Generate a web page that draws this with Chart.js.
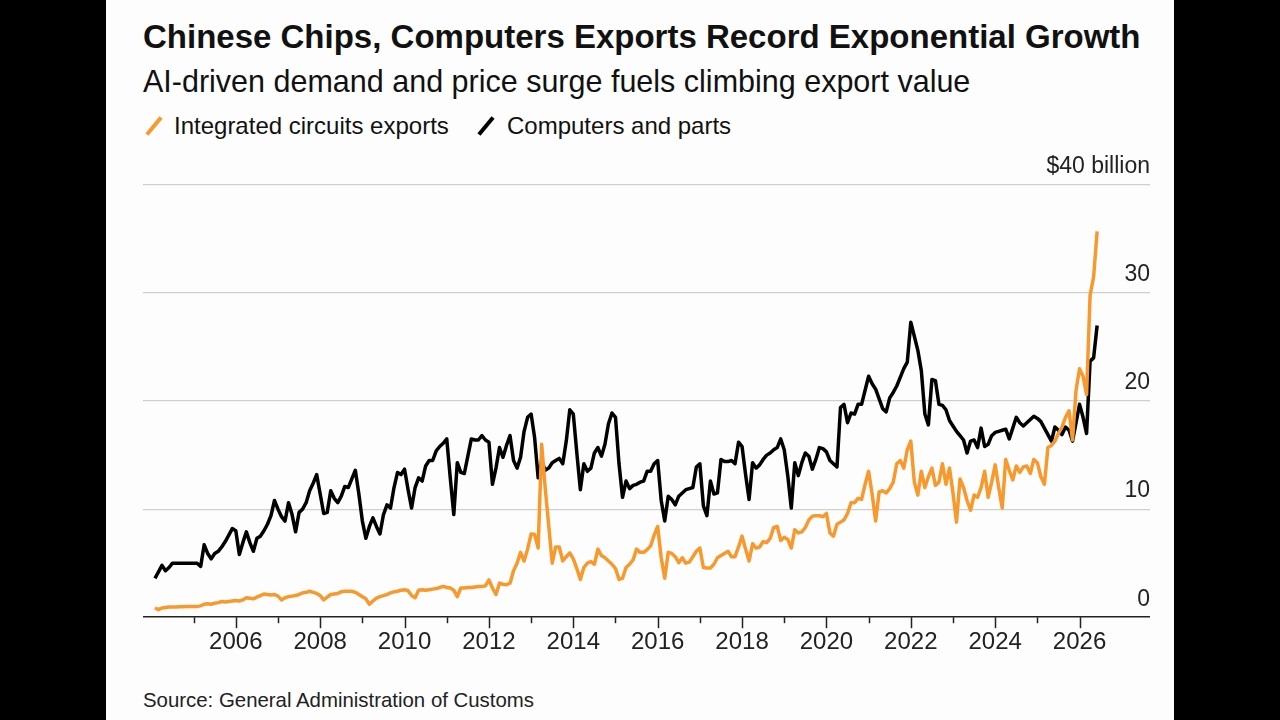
<!DOCTYPE html>
<html>
<head>
<meta charset="utf-8">
<script src="https://cdn.jsdelivr.net/npm/chart.js@4.4.1/dist/chart.umd.min.js"></script>
<style>
  html, body { margin: 0; padding: 0; background: #000; }
  body { width: 1280px; height: 720px; position: relative; overflow: hidden;
         font-family: "Liberation Sans", Arial, Helvetica, sans-serif; }
  #panel { position: absolute; left: 106px; top: 0; width: 1068px; height: 720px; background: #fdfdfd; }
  .txt { position: absolute; white-space: nowrap; color: #111; }
  #title { left: 143px; top: 17px; font-size: 33px; line-height: 40px; font-weight: bold; }
  #subtitle { left: 143px; top: 63px; font-size: 30.5px; line-height: 36px; }
  .leg { top: 111px; font-size: 24px; line-height: 30px; }
  .slash { position: absolute; top: 115px; width: 4px; height: 22px; transform: rotate(40deg); }
  #source { left: 143px; top: 688px; font-size: 20.4px; line-height: 24px; color: #222; }
  #chartBox { position: absolute; left: 143px; top: 140px; width: 1007px; height: 540px; }
</style>
</head>
<body>
<div id="panel"></div>
<div class="txt" id="title">Chinese Chips, Computers Exports Record Exponential Growth</div>
<div class="txt" id="subtitle">AI-driven demand and price surge fuels climbing export value</div>
<div class="slash" style="left:152px; background:#f7992d;"></div>
<div class="txt leg" style="left:174px;">Integrated circuits exports</div>
<div class="slash" style="left:484px; background:#000;"></div>
<div class="txt leg" style="left:507px;">Computers and parts</div>
<div id="chartBox"><canvas id="chart"></canvas></div>
<div class="txt" id="source">Source: General Administration of Customs</div>

<script>
// monthly values, $ billion, Jan 2004 .. May 2026
const startYear = 2004;

const chips = [
  0.85, 0.7, 0.85, 0.9, 0.95, 0.95, 0.95, 0.97, 0.97, 1.0, 1.0, 1.0,      // 2004
  1.0, 1.05, 1.2, 1.25, 1.2, 1.3, 1.35, 1.45, 1.4, 1.45, 1.5, 1.55,       // 2005
  1.5, 1.6, 1.8, 1.75, 1.7, 1.85, 2.0, 2.15, 2.1, 2.05, 2.1, 1.95,        // 2006
  1.6, 1.8, 1.9, 1.95, 2.0, 2.1, 2.25, 2.3, 2.4, 2.3, 2.2, 2.0,           // 2007
  1.6, 1.85, 2.1, 2.15, 2.2, 2.35, 2.4, 2.4, 2.4, 2.3, 2.1, 1.9,          // 2008
  1.7, 1.2, 1.5, 1.77, 1.9, 2.0, 2.1, 2.25, 2.35, 2.4, 2.5, 2.55,         // 2009
  2.45, 2.0, 1.8, 2.5, 2.55, 2.5, 2.55, 2.6, 2.65, 2.75, 2.85, 2.75,      // 2010
  2.7, 2.5, 1.9, 2.7, 2.7, 2.75, 2.75, 2.8, 2.85, 2.85, 2.9, 3.45,        // 2011
  2.7, 2.1, 3.15, 3.05, 3.0, 3.15, 4.3, 5.0, 6.0, 5.2, 6.3, 7.7,          // 2012
  7.65, 6.4, 16.0, 12.0, 8.5, 5.0, 6.5, 6.5, 5.2, 5.6, 5.95, 5.4,         // 2013
  4.5, 3.5, 4.6, 5.0, 5.15, 4.9, 6.3, 5.7, 5.5, 5.2, 4.9, 4.5,            // 2014
  3.5, 3.6, 4.6, 4.9, 5.3, 6.3, 6.0, 6.0, 6.25, 6.6, 7.6, 8.4,            // 2015
  5.5, 3.6, 6.0, 5.9, 5.6, 5.05, 5.5, 5.0, 5.1, 5.6, 6.1, 6.4,            // 2016
  4.6, 4.55, 4.55, 4.9, 5.5, 5.7, 5.9, 6.1, 5.6, 5.6, 6.5, 7.5,           // 2017
  6.3, 5.2, 6.8, 6.4, 6.5, 7.0, 6.9, 7.3, 8.3, 8.4, 7.1, 7.4,             // 2018
  7.2, 6.4, 8.1, 7.8, 7.9, 8.3, 9.0, 9.35, 9.4, 9.4, 9.3, 9.6,            // 2019
  7.8, 7.5, 8.6, 8.8, 9.0, 9.6, 10.6, 10.6, 11.0, 10.9, 12.3, 13.5,       // 2020
  11.4, 8.9, 11.6, 11.7, 11.5, 11.9, 12.5, 14.2, 14.5, 13.8, 15.5, 16.3,  // 2021
  12.5, 11.3, 13.5, 12.0, 13.0, 13.8, 12.2, 12.5, 14.2, 12.3, 13.8, 11.5, // 2022
  8.8, 12.8, 12.0, 10.8, 9.9, 11.3, 11.1, 12.0, 13.5, 11.1, 12.5, 14.1,   // 2023
  12.0, 10.1, 14.6, 13.6, 12.7, 14.0, 13.4, 13.9, 14.0, 13.3, 14.6, 14.3, // 2024
  13.0, 12.3, 15.7, 15.9, 16.3, 17.0, 17.6, 18.5, 19.1, 16.4, 21.0, 23.0, // 2025
  22.3, 20.6, 29.8, 31.5, 35.7                                            // 2026
];

const computers = [
  3.6, 4.2, 4.8, 4.3, 4.6, 5.0, 5.0, 5.0, 5.0, 5.0, 5.0, 5.0,             // 2004
  5.0, 4.7, 6.7, 5.9, 5.4, 5.9, 6.1, 6.5, 7.0, 7.6, 8.2, 8.0,             // 2005
  5.8, 6.9, 7.9, 6.9, 6.1, 7.3, 7.5, 8.0, 8.6, 9.4, 10.8, 10.0,           // 2006
  9.3, 8.9, 10.6, 9.5, 7.9, 9.7, 10.0, 10.6, 11.7, 12.4, 13.2, 11.4,      // 2007
  9.6, 9.7, 11.7, 11.0, 10.6, 11.2, 12.1, 12.0, 12.8, 13.6, 11.4, 8.9,    // 2008
  7.3, 8.4, 9.2, 8.4, 7.7, 9.5, 10.4, 10.1, 12.0, 13.4, 13.2, 13.7,       // 2009
  11.8, 10.1, 12.0, 12.9, 12.6, 14.0, 14.5, 14.5, 15.4, 15.8, 16.1, 16.5, // 2010
  12.9, 9.5, 14.3, 13.4, 13.3, 14.9, 16.5, 16.4, 16.4, 16.8, 16.4, 16.2,  // 2011
  12.3, 13.8, 15.7, 14.8, 15.9, 16.8, 14.5, 13.8, 14.8, 17.2, 18.5, 18.8, // 2012
  16.6, 12.9, 14.5, 13.6, 13.8, 14.3, 14.5, 14.7, 14.2, 16.3, 19.2, 18.8, // 2013
  15.2, 11.8, 14.2, 13.5, 13.8, 15.2, 15.7, 14.9, 16.0, 17.9, 18.9, 18.5, // 2014
  14.2, 11.1, 12.6, 11.9, 12.2, 12.3, 12.5, 12.6, 13.5, 13.5, 14.2, 14.5, // 2015
  10.8, 8.9, 11.2, 10.9, 10.4, 11.2, 11.5, 11.8, 11.9, 12.0, 13.9, 14.2,  // 2016
  10.3, 9.4, 12.6, 11.4, 11.5, 14.6, 14.4, 14.4, 14.5, 14.2, 16.2, 15.8,  // 2017
  13.2, 10.9, 14.3, 13.8, 14.1, 14.6, 15.0, 15.2, 15.5, 15.7, 16.5, 15.5, // 2018
  13.1, 10.1, 14.3, 13.1, 14.3, 15.2, 14.9, 13.7, 14.6, 15.7, 15.6, 15.3, // 2019
  14.5, 14.2, 13.9, 19.4, 19.7, 18.0, 18.9, 18.8, 19.7, 19.7, 21.0, 22.3, // 2020
  21.6, 21.1, 20.2, 19.3, 19.0, 20.3, 20.8, 21.4, 22.2, 23.0, 23.6, 27.3, // 2021
  26.0, 24.7, 22.8, 18.8, 17.8, 22.0, 21.9, 19.7, 19.6, 19.2, 18.2, 17.7, // 2022
  17.2, 16.8, 16.4, 15.2, 16.3, 16.4, 15.7, 17.5, 15.8, 16.0, 16.8, 17.1, // 2023
  17.2, 17.3, 17.4, 16.5, 17.5, 18.5, 18.0, 17.7, 18.0, 18.3, 18.6, 18.4, // 2024
  18.1, 17.5, 16.9, 16.3, 17.6, 17.3, 16.9, 17.6, 17.3, 16.3, 18.0, 19.7, // 2025
  18.5, 17.0, 23.7, 24.0, 27.0                                            // 2026
];

const tickYears = [2005, 2006, 2007, 2008, 2009, 2010, 2011, 2012, 2013, 2014, 2015,
                   2016, 2017, 2018, 2019, 2020, 2021, 2022, 2023, 2024, 2025, 2026];
const labelYears = [2006, 2008, 2010, 2012, 2014, 2016, 2018, 2020, 2022, 2024, 2026];
const yTicks = [0, 10, 20, 30, 40];

// month i sits at the end of its month on the year scale
function toPoints(values) {
    return values.map((v, i) => ({ x: startYear + (i + 1) / 12, y: v }));
}

// short ticks for odd years, longer ones under the labels
const yearTicks = {
    id: 'yearTicks',
    afterDraw(chart) {
        const xs = chart.scales.x;
        const ctx = chart.ctx;
        const bottom = chart.chartArea.bottom;
        ctx.save();
        ctx.strokeStyle = '#222';
        ctx.lineWidth = 1.5;
        tickYears.forEach(yr => {
            const px = Math.round(xs.getPixelForValue(yr)) + 0.5;
            const len = labelYears.includes(yr) ? 11 : 6;
            ctx.beginPath();
            ctx.moveTo(px, bottom);
            ctx.lineTo(px, bottom + len);
            ctx.stroke();
        });
        ctx.restore();
    }
};

new Chart(document.getElementById('chart').getContext('2d'), {
    type: 'line',
    data: {
        datasets: [
            {
                label: 'Integrated circuits exports',
                data: toPoints(chips),
                borderColor: '#f7992d',
                backgroundColor: '#f7992d',
                borderWidth: 3.5,
                pointRadius: 0,
                borderJoinStyle: 'round'
            },
            {
                label: 'Computers and parts',
                data: toPoints(computers),
                borderColor: '#000',
                backgroundColor: '#000',
                borderWidth: 3.5,
                pointRadius: 0,
                borderJoinStyle: 'round'
            }
        ]
    },
    options: {
        animation: false,
        responsive: true,
        maintainAspectRatio: false,
        devicePixelRatio: 1,
        layout: { padding: { top: 45, bottom: 20, left: 0, right: 0 } },
        plugins: { legend: { display: false }, tooltip: { enabled: false } },
        scales: {
            x: {
                type: 'linear',
                min: 2003.8,
                max: 2027.67,
                afterBuildTicks: scale => { scale.ticks = tickYears.map(v => ({ value: v })); },
                grid: { display: false },
                border: { display: false },
                ticks: {
                    autoSkip: false,
                    maxRotation: 0,
                    padding: 3,
                    color: '#222',
                    font: { family: '"Liberation Sans", Arial, sans-serif', size: 24 },
                    callback: v => labelYears.includes(v) ? String(v) : ''
                }
            },
            y: {
                position: 'right',
                min: 0,
                max: 40,
                afterBuildTicks: scale => { scale.ticks = yTicks.map(v => ({ value: v })); },
                grid: {
                    drawTicks: false,
                    color: c => c.tick && c.tick.value === 0 ? '#222' : '#cfcfcf',
                    lineWidth: c => c.tick && c.tick.value === 0 ? 1.5 : 1.3
                },
                border: { display: false },
                ticks: {
                    mirror: true,
                    padding: 0,
                    labelOffset: -18,
                    color: '#222',
                    font: { family: '"Liberation Sans", Arial, sans-serif', size: 23 },
                    callback: v => v === 40 ? '$40 billion' : String(v)
                }
            }
        }
    },
    plugins: [yearTicks]
});
</script>
</body>
</html>
